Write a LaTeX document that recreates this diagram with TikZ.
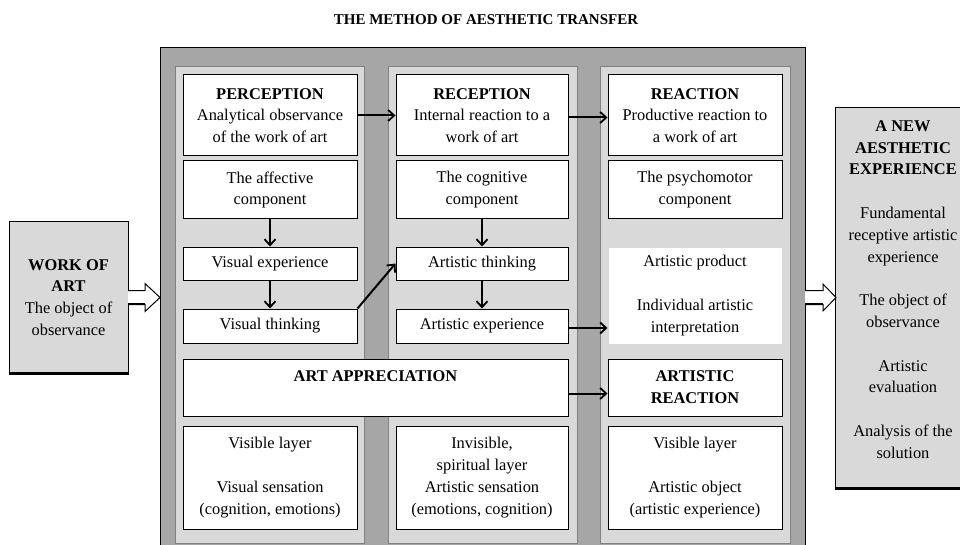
\documentclass[tikz,border=0pt]{standalone}
\usepackage{fontspec}
\setmainfont{Liberation Serif}
\usetikzlibrary{arrows.meta}
\definecolor{darkg}{HTML}{A6A6A6}
\definecolor{lightg}{HTML}{D9D9D9}
\definecolor{colborder}{HTML}{808080}
\begin{document}
\begin{tikzpicture}[x=1pt,y=-1pt,
  every node/.style={font=\fontsize{16.4}{21.8}\selectfont},
  cbox/.style={draw=black, line width=1pt, fill=white, align=center, inner sep=0pt},
  c1/.style={minimum width=174pt},
  c2/.style={minimum width=172pt},
  c3/.style={minimum width=174pt},
  r1/.style={minimum height=81pt},
  r2/.style={minimum height=58pt},
  r3/.style={minimum height=33pt},
  r4/.style={minimum height=34pt},
  r5/.style={minimum height=57pt},
  r6/.style={minimum height=103pt},
  column/.style={fill=lightg, draw=colborder, line width=0.6pt},
  sidebox/.style={fill=lightg, draw=black, line width=1pt},
  heavyedge/.style={black, line width=2.2pt},
  arr/.style={line width=2pt, -{Straight Barb[length=6pt,width=11pt,line width=1.8pt]}},
  hollow/.style={fill=white, draw=black, line width=1pt, line join=miter}
]
\useasboundingbox (0,0) rectangle (960,545);

% title
\node[font=\fontsize{15}{16}\selectfont\bfseries] (title) at (486,20) {THE METHOD OF AESTHETIC TRANSFER};

% outer frame and columns
\path[fill=darkg, draw=black, line width=1pt] (160,48) rectangle (805,560);
\path[column] (175,66) rectangle (364,543);
\path[column] (388,66) rectangle (577,543);
\path[column] (600,66) rectangle (790,543);

% column 1
\node[cbox,c1,r1] (perc) at (270,115.5) {\textbf{PERCEPTION}\\Analytical observance\\of the work of art};
\node[cbox,c1,r2] (aff) at (270,190) {The affective\\component};
\node[cbox,c1,r3] (vexp) at (270,263.5) {Visual experience};
\node[cbox,c1,r4] (vthink) at (270,326) {Visual thinking};
\node[cbox,minimum width=385pt,r5,text depth=22pt] (artapp) at (375.5,387.5) {\textbf{ART APPRECIATION}};
\node[cbox,c1,r6] (vis1) at (270,477.5) {Visible layer\\[21.8pt]Visual sensation\\(cognition, emotions)};

% column 2
\node[cbox,c2,r1] (rec) at (482,115.5) {\textbf{RECEPTION}\\Internal reaction to a\\work of art};
\node[cbox,c2,r2] (cog) at (482,189.5) {The cognitive\\component};
\node[cbox,c2,r3] (athink) at (482,263.5) {Artistic thinking};
\node[cbox,c2,r4] (aexp) at (482,326) {Artistic experience};
\node[cbox,c2,r6] (invis) at (482,477.5) {Invisible,\\spiritual layer\\Artistic sensation\\(emotions, cognition)};

% column 3
\node[cbox,c3,r1] (react) at (695,115.5) {\textbf{REACTION}\\Productive reaction to\\a work of art};
\node[cbox,c3,r2] (psy) at (695,189.5) {The psychomotor\\component};
\node[cbox,c3,minimum height=97pt,draw=lightg] (aprod) at (695,295.5) {Artistic product\\[21.8pt]Individual artistic\\interpretation};
\node[cbox,c3,r5] (areact) at (695,387.5) {\textbf{ARTISTIC}\\\textbf{REACTION}};
\node[cbox,c3,r6] (vis3) at (695,477.5) {Visible layer\\[21.8pt]Artistic object\\(artistic experience)};

% side boxes
\node[sidebox, minimum width=119pt, minimum height=151pt, align=center, inner sep=0pt] (woa) at (68.5,297.5)
  {\textbf{WORK OF}\\\textbf{ART}\\The object of\\observance};
\draw[heavyedge] (woa.south west) -- (woa.south east);
\node[sidebox, minimum width=140pt, minimum height=380pt, inner sep=0pt] (newexp) at (905,298) {};
\draw[heavyedge] (newexp.south west) -- (newexp.south east);
\node[align=center, inner sep=0pt] (newtxt) at (903,289.5)
  {\textbf{A NEW}\\\textbf{AESTHETIC}\\\textbf{EXPERIENCE}\\[21.8pt]Fundamental\\receptive artistic\\experience\\[21.8pt]The object of\\observance\\[21.8pt]Artistic\\evaluation\\[21.8pt]Analysis of the\\solution};

% hollow block arrows
\draw[hollow] (128,290.5) -- (145,290.5) -- (145,283.5) -- (160,297.5) -- (145,311.5) -- (145,304.5) -- (128,304.5);
\draw[black, line width=2pt] (128,303.5) -- (145,303.5);
\draw[hollow] (805,290.5) -- (823,290.5) -- (823,284) -- (836,297.5) -- (823,311) -- (823,304.5) -- (805,304.5);
\draw[black, line width=2pt] (805,303.5) -- (823,303.5);

% connectors
\draw[arr] (perc.east) -- (rec.west);
\draw[arr] ([yshift=-2pt]rec.east) -- ([yshift=-2pt]react.west);
\draw[arr] (aff.south) -- (vexp.north);
\draw[arr] (vexp.south) -- (vthink.north);
\draw[arr] (vthink.north east) -- (athink.west);
\draw[arr] (cog.south) -- (athink.north);
\draw[arr] (athink.south) -- (aexp.north);
\draw[arr] ([yshift=-2pt]aexp.east) -- ([yshift=-2pt]aexp.east -| aprod.west);
\draw[arr] ([yshift=-6pt]artapp.east) -- ([yshift=-6pt]areact.west);
\end{tikzpicture}
\end{document}
